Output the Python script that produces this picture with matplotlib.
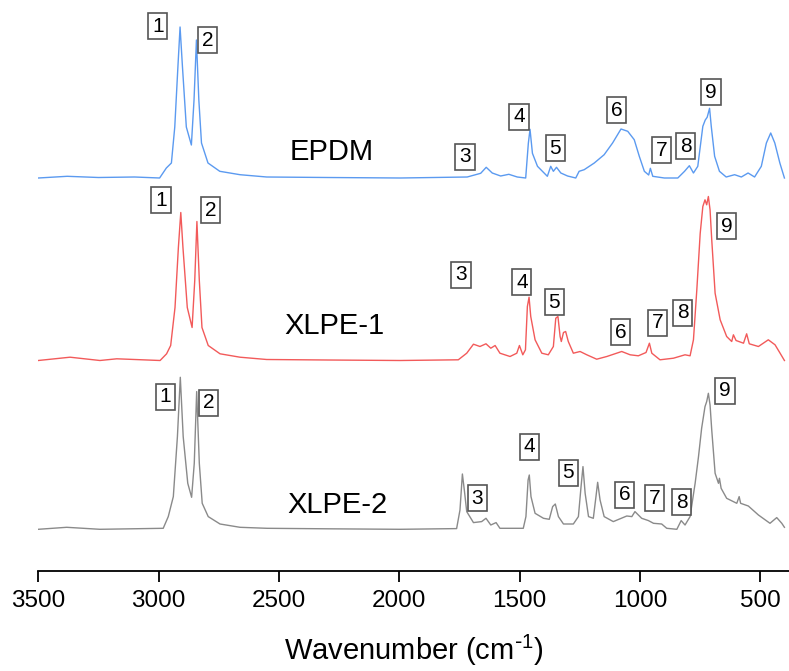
import matplotlib
matplotlib.use("Agg")
import matplotlib.pyplot as plt
import numpy as np

plt.rcParams['font.family'] = ['Liberation Sans', 'DejaVu Sans']
plt.rcParams['mathtext.default'] = 'regular'

epdm_wn = [3500, 3380, 3250, 3100, 2996, 2968, 2947, 2933, 2920, 2911, 2901, 2885, 2864,
           2853, 2843, 2833, 2822, 2795, 2746, 2662, 2551, 2300, 1996, 1718, 1662, 1639,
           1614, 1579, 1545, 1510, 1475, 1464, 1457, 1447, 1426, 1385, 1371, 1360, 1347,
           1329, 1301, 1267, 1253, 1232, 1190, 1149, 1114, 1079, 1051, 1024, 1003, 982,
           964, 957, 947, 899, 843, 815, 795, 778, 760, 739, 729, 721, 711, 704, 690, 670,
           642, 607, 579, 551, 524, 496, 475, 457, 440, 419, 400]
epdm_ab = [0, 1.7, 0.5, 1, 0, 10, 15, 51, 111, 151, 111, 51, 33,
           78, 138, 78, 35, 15, 6.7, 3.3, 1, 0.5, 0, 1, 4.7, 10.7,
           5, 2, 3.7, 1, 0, 34.7, 48.7, 24.7, 11.7, 1.7, 11.7, 6.7, 10.7,
           5, 2, 0, 6.7, 8.3, 15, 23.3, 35, 49, 46.7, 38.3, 21.7, 6.7,
           3, 9.7, 1.7, 0, 0, 6.7, 12.3, 5, 11.7, 51.7, 58, 60.7, 69.7, 51.7, 21.7, 6.7,
           1, 3.3, 1, 5, 1, 11.7, 35, 45, 35, 15, 0]

xlpe1_wn = [3500, 3368, 3244, 3174, 2994, 2967, 2950, 2932, 2918, 2908, 2899, 2881, 2861,
            2850, 2841, 2831, 2820, 2794, 2745, 2662, 2551, 2300, 1997, 1755, 1720, 1692,
            1665, 1640, 1620, 1602, 1582, 1540, 1512, 1501, 1487, 1476, 1468, 1461, 1454,
            1436, 1408, 1381, 1360, 1350, 1341, 1332, 1327, 1318, 1309, 1298, 1277, 1249,
            1221, 1180, 1138, 1076, 1041, 1007, 975, 961, 951, 917, 861, 813, 792, 778, 764,
            750, 739, 730, 723, 716, 709, 702, 688, 667, 640, 619, 612, 601, 570, 557, 546,
            508, 467, 439, 418, 400]
xlpe1_ab = [0, 3.3, 0, 1.7, 0, 6.7, 15, 53, 113, 148, 113, 53, 33,
            80, 139, 80, 33, 15, 6.7, 3.3, 1, 0.5, 0, 0.7, 7.3, 16.3,
            14, 16.7, 12.3, 15, 7.3, 4, 7.3, 15, 5.7, 10.7, 54, 63.3, 44,
            20.7, 7.3, 5.7, 14, 42.3, 44, 24, 19, 28, 29, 19, 7.3, 9,
            5.7, 1.3, 4, 9, 5.7, 4.7, 8, 17.3, 7.3, 0.7, 2.3, 5.7, 4.7, 20.7, 70.7,
            127, 154, 160.7, 155.7, 164, 150.7, 120.7, 67.3, 40.7, 24, 19, 25.7, 20, 17.3, 26.7, 16.7,
            14, 20.7, 15.7, 7.3, 0]

xlpe2_wn = [3500, 3382, 3244, 2981, 2960, 2939, 2922, 2910, 2898, 2879, 2863, 2852, 2842,
            2831, 2819, 2794, 2745, 2662, 2550, 2300, 1997, 1762, 1748, 1738, 1730, 1720,
            1692, 1658, 1640, 1620, 1598, 1582, 1485, 1474, 1465, 1460, 1453, 1436, 1401,
            1377, 1363, 1352, 1339, 1318, 1277, 1256, 1245, 1237, 1228, 1214, 1194, 1183,
            1176, 1166, 1149, 1111, 1055, 1034, 1021, 1011, 993, 965, 944, 910, 889, 847,
            829, 813, 792, 771, 757, 744, 730, 723, 716, 709, 702, 688, 674, 670, 663, 640,
            598, 588, 582, 550, 508, 460, 432, 411, 400]
xlpe2_ab = [0, 2, 0, 1, 12.7, 32.7, 92.7, 152, 92.7, 46, 32, 66, 137.7,
            66, 26, 12.7, 5.3, 2, 1, 0.5, 0, 0.7, 19.3, 55.3, 39.3, 17.7,
            6.7, 7.7, 11, 4.3, 6.7, 1, 1, 12.7, 49.3, 54.3, 32.7, 16, 11,
            10, 22.7, 25.3, 12.7, 5.3, 5.3, 12.7, 42.7, 62.7, 36, 12.7, 11, 32.7,
            47, 29.3, 12.7, 7.7, 13.3, 12.7, 17.7, 15.3, 11, 8.7, 6, 5.3, 1, 0,
            8.7, 4.3, 12.7, 46, 72.7, 101, 122.7, 127.7, 136, 124.3, 99.3, 56, 46, 51, 41, 31,
            26, 32.7, 26, 23.3, 14.3, 6, 11.7, 6, 2]

names = ["EPDM", "XLPE-1", "XLPE-2"]
colors = ["#5b9af0", "#f25a5a", "#8a8a8a"]
offsets = [393, 210.5, 41.7]
spectra = [(epdm_wn, epdm_ab), (xlpe1_wn, xlpe1_ab), (xlpe2_wn, xlpe2_ab)]

# sample name position (wavenumber, y)
name_pos = [(2280, 419), (2268, 245), (2255, 66)]

# peak label boxes 1..9 (wavenumber, y) for each spectrum
peak_labels = [str(i) for i in range(1, 10)]
label_pos = [
    [(3003, 545), (2795, 531), (1727, 414), (1503, 454), (1352, 423),
     (1097, 461), (910, 421), (810, 425), (705, 479)],
    [(2990, 371), (2784, 361), (1744, 296), (1491, 289), (1357, 269),
     (1080, 239), (928, 248), (823, 258), (640, 345)],
    [(2971, 174), (2791, 168), (1676, 73), (1460, 124), (1298, 98),
     (1065, 76), (941, 73), (827, 69), (647, 180)],
]

fig = plt.figure(figsize=(7.89, 6.71), dpi=100)
ax = fig.add_axes([38.3 / 789, 100 / 671, 1 - 38.3 / 789, 571 / 671])

for (wn, ab), off, col in zip(spectra, offsets, colors):
    ax.plot(wn, np.array(ab) + off, color=col, lw=1.0)

for name, (x, y) in zip(names, name_pos):
    ax.text(x, y, name, fontsize=21, ha='center', va='center')

for positions in label_pos:
    for lab, (x, y) in zip(peak_labels, positions):
        ax.text(x, y, lab, fontsize=15, ha='center', va='center', zorder=5,
                bbox=dict(boxstyle='square,pad=0.18', fc='white', ec='#555555', lw=1.2))

ax.set_xlim(3500, 381)
ax.set_ylim(0, 571)
ax.set_xticks([3500, 3000, 2500, 2000, 1500, 1000, 500])
ax.set_yticks([])
for s in ['left', 'right', 'top']:
    ax.spines[s].set_visible(False)
ax.spines['bottom'].set_linewidth(1.3)
ax.tick_params(axis='x', direction='out', length=8, width=1.3, labelsize=17.5, pad=6)
ax.set_xlabel(r'Wavenumber (cm$^{\text{-}1}$)', fontsize=21, labelpad=15)

fig.savefig("out.png", dpi=100)
